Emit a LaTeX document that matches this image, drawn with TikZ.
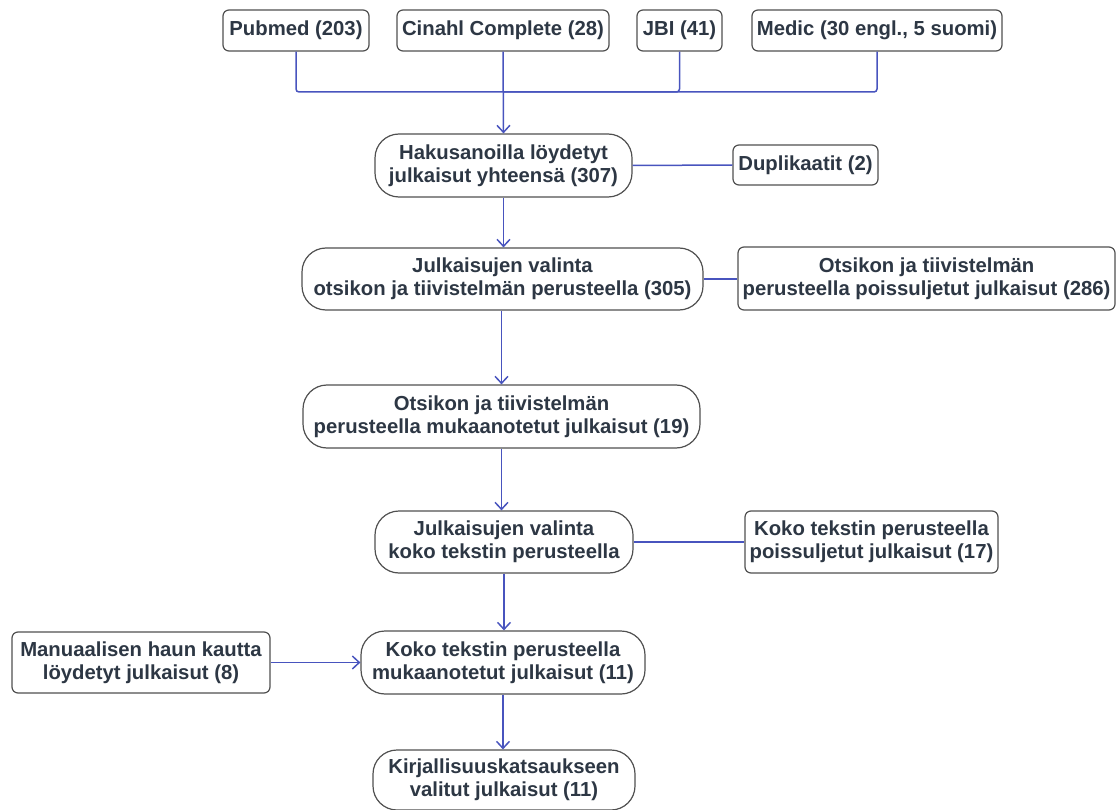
\documentclass[tikz,border=0pt]{standalone}
\usepackage{fontspec}
\setmainfont{Liberation Sans}
\usetikzlibrary{arrows.meta}
\definecolor{txt}{RGB}{45,55,68}
\definecolor{edge}{RGB}{80,80,80}
\definecolor{conn}{RGB}{72,84,190}
\tikzset{
  box/.style={draw=edge, line width=1.2pt, fill=white, rounded corners=6pt, align=center,
    inner sep=0pt, text=txt, font=\bfseries\fontsize{20.3}{23}\selectfont},
  pill/.style={box, rounded corners=24pt},
  link/.style={draw=conn, line width=1.5pt},
  arr/.style={link, -{Straight Barb[length=7pt,width=13pt,line width=1.5pt]}},
}
\begin{document}
\begin{tikzpicture}[x=1pt,y=-1pt]
\useasboundingbox (0,0) rectangle (1119,810);
% sources
\node[box, minimum width=146, minimum height=41] (pubmed) at (296,30.5) {Pubmed (203)};
\node[box, minimum width=212, minimum height=41] (cinahl) at (503,30.5) {Cinahl Complete (28)};
\node[box, minimum width=85, minimum height=41] (jbi) at (679.5,30.5) {JBI (41)};
\node[box, minimum width=250, minimum height=41] (medic) at (877,30.5) {Medic (30 engl., 5 suomi)};
% main flow
\node[pill, minimum width=257, minimum height=63] (hak) at (503.5,165.5) {Hakusanoilla löydetyt\\julkaisut yhteensä (307)};
\node[box, minimum width=145, minimum height=40] (dup) at (805.5,165) {Duplikaatit (2)};
\node[pill, minimum width=401, minimum height=62] (val1) at (502.5,279) {Julkaisujen valinta\\otsikon ja tiivistelmän perusteella (305)};
\node[box, minimum width=377, minimum height=63] (pois1) at (926.5,278.5) {Otsikon ja tiivistelmän\\perusteella poissuljetut julkaisut (286)};
\node[pill, minimum width=397, minimum height=63] (muk1) at (501.5,416.5) {Otsikon ja tiivistelmän\\perusteella mukaanotetut julkaisut (19)};
\node[pill, minimum width=258, minimum height=62] (val2) at (504,542) {Julkaisujen valinta\\koko tekstin perusteella};
\node[box, minimum width=253, minimum height=62] (pois2) at (871.5,542) {Koko tekstin perusteella\\poissuljetut julkaisut (17)};
\node[pill, minimum width=284, minimum height=63] (muk2) at (503,662.5) {Koko tekstin perusteella\\mukaanotetut julkaisut (11)};
\node[box, minimum width=258, minimum height=61] (man) at (141,662.5) {Manuaalisen haun kautta\\löydetyt julkaisut (8)};
\node[pill, minimum width=262, minimum height=60] (kirj) at (504,780) {Kirjallisuuskatsaukseen\\valitut julkaisut (11)};
% connectors
\coordinate (j) at (503,92);
\draw[link, rounded corners=3pt] (pubmed.south) |- (j);
\draw[link, rounded corners=3pt] (medic.south) |- (j);
\draw[link, rounded corners=3pt] (jbi.south) |- (j);
\draw[arr] (cinahl.south) -- (hak.north);
\draw[link] (hak.east) -- (dup.west);
\draw[arr] (hak.south) -- (hak.south |- val1.north);
\draw[link] (val1.east) -- (val1.east -| pois1.west);
\draw[arr] (val1.south -| muk1.north) -- (muk1.north);
\draw[arr] (muk1.south) -- (muk1.south |- val2.north);
\draw[link] (val2.east) -- (pois2.west);
\draw[arr] (val2.south) -- (val2.south |- muk2.north);
\draw[arr] (man.east) -- (muk2.west);
\draw[arr] (muk2.south) -- (muk2.south |- kirj.north);
\end{tikzpicture}
\end{document}
